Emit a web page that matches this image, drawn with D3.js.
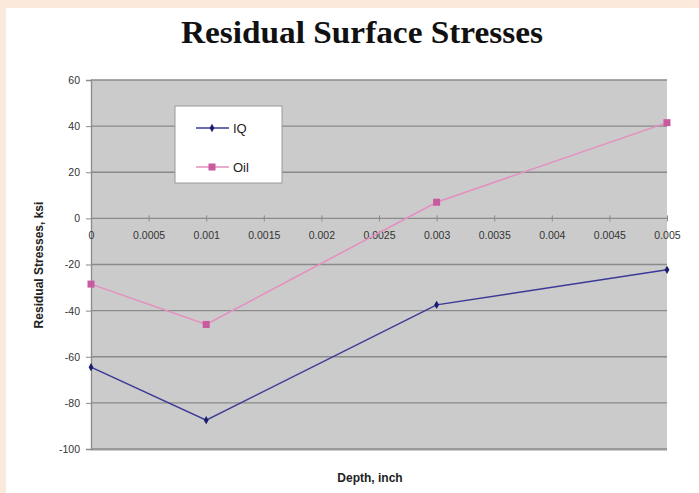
<!DOCTYPE html>
<html><head><meta charset="utf-8">
<script src="https://cdn.jsdelivr.net/npm/d3@7"></script>
<style>
html,body{margin:0;padding:0;background:#fbe9dc;}
svg{display:block;}
</style></head>
<body>
<svg id="c" width="699" height="493"></svg>
<script>
const depths = [0, 0.001, 0.003, 0.005];
const iqValues = [-64.5, -87.5, -37.5, -22.3];
const oilValues = [-28.5, -46, 7, 41.5];
const seriesNames = ["IQ", "Oil"];
const xTicks = [0, 0.0005, 0.001, 0.0015, 0.002, 0.0025, 0.003, 0.0035, 0.004, 0.0045, 0.005];
const yTicks = [60, 40, 20, 0, -20, -40, -60, -80, -100];

const svg = d3.select("#c");
svg.append("rect").attr("x", 6).attr("y", 8).attr("width", 693).attr("height", 485).attr("fill", "#ffffff");

const L = 91, R = 667, T = 80, B = 449;
const x = d3.scaleLinear().domain([0, 0.005]).range([L, R]);
const y = d3.scaleLinear().domain([-100, 60]).range([B, T]);

svg.append("text").attr("x", 362).attr("y", 43).attr("text-anchor", "middle")
  .attr("font-family", "Liberation Serif, Times New Roman, serif").attr("font-weight", "bold")
  .attr("font-size", 31).attr("textLength", 362).attr("lengthAdjust", "spacingAndGlyphs")
  .attr("fill", "#111").text("Residual Surface Stresses");

// plot area
svg.append("rect").attr("x", L).attr("y", T).attr("width", R - L).attr("height", B - T + 2)
  .attr("fill", "#cbcbcb");

// gridlines
svg.append("g").selectAll("line").data(yTicks).join("line")
  .attr("x1", L).attr("x2", R).attr("y1", d => y(d)).attr("y2", d => y(d))
  .attr("stroke", "#8a8a8a").attr("stroke-width", 1.3);

const fmt = d => String(d);

// y axis
const yAxis = d3.axisLeft(y).tickValues(yTicks).tickSize(5).tickPadding(6).tickFormat(fmt);
const gy = svg.append("g").attr("transform", `translate(${L},0)`).call(yAxis);
gy.select(".domain").attr("stroke", "#8a8a8a").attr("stroke-width", 1.3);
gy.selectAll(".tick line").attr("stroke", "#8a8a8a");
gy.selectAll("text").attr("font-family", "Liberation Sans, Arial, sans-serif").attr("font-size", 10.5).attr("fill", "#333");

// x axis at y=0
const xAxis = d3.axisBottom(x).tickValues(xTicks).tickSizeInner(3).tickSizeOuter(0).tickPadding(10)
  .tickFormat(d => d === 0 ? "0" : String(+d.toFixed(4)));
const gx = svg.append("g").attr("transform", `translate(0,${y(0)})`).call(xAxis);
gx.select(".domain").remove();
gx.selectAll(".tick line").attr("stroke", "#8a8a8a").attr("y1", -3).attr("y2", 3);
gx.selectAll("text").attr("font-family", "Liberation Sans, Arial, sans-serif").attr("font-size", 10.5).attr("fill", "#333");

// axis titles
svg.append("text").attr("transform", "translate(43,265) rotate(-90)").attr("text-anchor", "middle")
  .attr("font-family", "Liberation Sans, Arial, sans-serif").attr("font-weight", "bold").attr("font-size", 12)
  .attr("fill", "#222").text("Residual Stresses, ksi");
svg.append("text").attr("x", 370).attr("y", 482).attr("text-anchor", "middle")
  .attr("font-family", "Liberation Sans, Arial, sans-serif").attr("font-weight", "bold").attr("font-size", 12)
  .attr("fill", "#222").text("Depth, inch");

const iqColor = "#3a3a96", iqMarker = "#1c1c70";
const oilColor = "#e58fbf", oilMarker = "#c85aa0";
const line = d3.line().x(d => x(d[0])).y(d => y(d[1]));
const iqData = depths.map((d, i) => [d, iqValues[i]]);
const oilData = depths.map((d, i) => [d, oilValues[i]]);

svg.append("path").datum(oilData).attr("d", line).attr("fill", "none").attr("stroke", oilColor).attr("stroke-width", 1.5);
svg.append("path").datum(iqData).attr("d", line).attr("fill", "none").attr("stroke", iqColor).attr("stroke-width", 1.5);

svg.append("g").selectAll("rect").data(oilData).join("rect")
  .attr("x", d => x(d[0]) - 3.5).attr("y", d => y(d[1]) - 3.5).attr("width", 7).attr("height", 7).attr("fill", oilMarker);
svg.append("g").selectAll("path").data(iqData).join("path")
  .attr("d", d3.symbol(d3.symbolDiamond, 20)).attr("transform", d => `translate(${x(d[0])},${y(d[1])})`).attr("fill", iqMarker);

// legend
const lg = svg.append("g");
lg.append("rect").attr("x", 175).attr("y", 106).attr("width", 107).attr("height", 77)
  .attr("fill", "#ffffff").attr("stroke", "#9a9a9a");
const lgItems = [
  {name: seriesNames[0], color: iqColor, mk: iqMarker, cy: 128, sq: false},
  {name: seriesNames[1], color: oilColor, mk: oilMarker, cy: 167, sq: true}
];
lgItems.forEach(it => {
  lg.append("line").attr("x1", 196).attr("x2", 229).attr("y1", it.cy).attr("y2", it.cy).attr("stroke", it.color).attr("stroke-width", 1.5);
  if (it.sq) lg.append("rect").attr("x", 208.5).attr("y", it.cy - 3.5).attr("width", 7).attr("height", 7).attr("fill", it.mk);
  else lg.append("path").attr("d", d3.symbol(d3.symbolDiamond, 20)).attr("transform", `translate(212,${it.cy})`).attr("fill", it.mk);
  lg.append("text").attr("x", 233).attr("y", it.cy + 5).attr("font-family", "Liberation Sans, Arial, sans-serif")
    .attr("font-size", 13).attr("fill", "#222").text(it.name);
});
</script>
</body></html>
